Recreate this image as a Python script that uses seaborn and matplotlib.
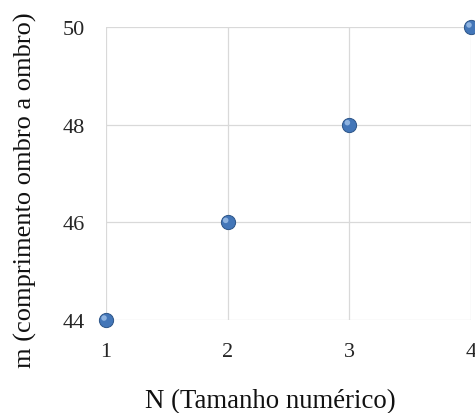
import matplotlib
matplotlib.use("Agg")
import matplotlib.pyplot as plt
import matplotlib.transforms as mtransforms
import pandas as pd
import seaborn as sns

# dados
tamanho_n = [1, 2, 3, 4]
comprimento_m = [44, 46, 48, 50]
x_ticks = [1, 2, 3, 4]
y_ticks = [44, 46, 48, 50]

df = pd.DataFrame({"N": tamanho_n, "m": comprimento_m})

sns.set_theme(style="white")
plt.rcParams["font.family"] = ["Liberation Serif", "DejaVu Serif"]

fig = plt.figure(figsize=(4.75, 4.14), dpi=100)
ax = fig.add_axes([0.2232, 0.2246, 0.7684, 0.7078])

sns.scatterplot(data=df, x="N", y="m", ax=ax, s=105, color="#4376b8",
                edgecolor="#2d5588", linewidth=0.7, zorder=5, clip_on=False)
# brilho da esfera
sns.scatterplot(data=df, x="N", y="m", ax=ax, s=16, color="#a8c8ee",
                edgecolor="none", zorder=6, clip_on=False, alpha=0.75)
shift = mtransforms.ScaledTranslation(-2 / 100, 2 / 100, fig.dpi_scale_trans)
ax.collections[1].set_offset_transform(ax.transData + shift)

ax.set_xlim(1, 4)
ax.set_ylim(44, 50)
ax.set_xticks(x_ticks)
ax.set_yticks(y_ticks)
ax.grid(True, color="#d9d9d9", linewidth=0.9)
for s in ax.spines.values():
    s.set_visible(False)
ax.tick_params(axis="both", length=0, labelsize=16, colors="#262626")
ax.tick_params(axis="x", pad=16)
ax.tick_params(axis="y", pad=15)

ax.set_xlabel("N (Tamanho numérico)", fontsize=19.3, color="#111111")
ax.xaxis.set_label_coords(0.45, -0.232)
ax.set_ylabel("m (comprimento ombro a ombro)", fontsize=19, color="#111111")
ax.yaxis.set_label_coords(-0.189, 0.447)

fig.savefig("out.png", dpi=100)
